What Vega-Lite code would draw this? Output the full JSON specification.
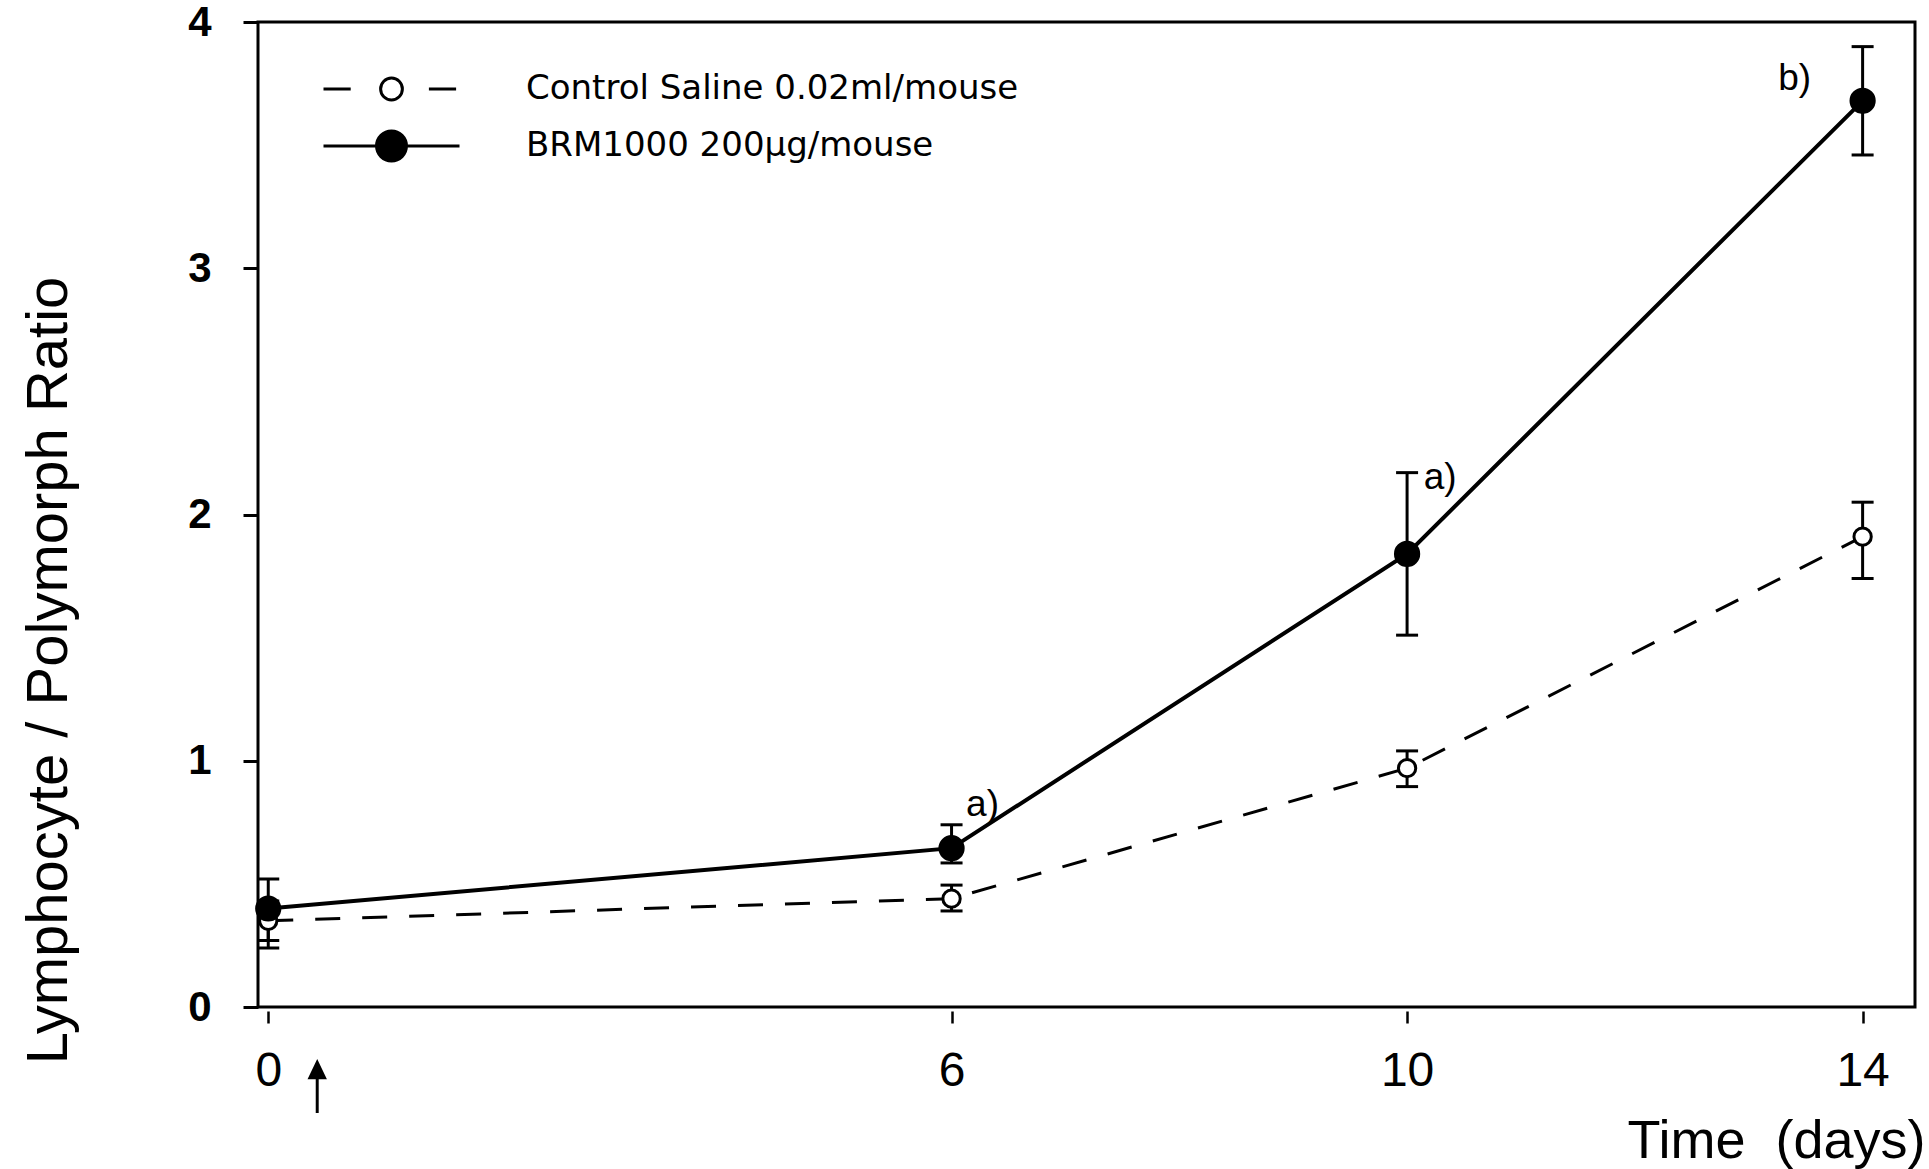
{
  "$schema": "https://vega.github.io/schema/vega-lite/v6.json",
  "width": 1657,
  "height": 985,
  "autosize": {"type": "none"},
  "padding": {"left": 258, "top": 22, "right": 14, "bottom": 162},
  "background": "white",
  "config": {
    "view": {"stroke": "black", "strokeWidth": 3},
    "font": "Liberation Sans"
  },
  "datasets": {
    "series": [
      {"series": "Control Saline 0.02ml/mouse", "day": 0, "ratio": 0.35, "low": 0.27, "high": 0.43, "note": ""},
      {"series": "Control Saline 0.02ml/mouse", "day": 6, "ratio": 0.44, "low": 0.39, "high": 0.495, "note": ""},
      {"series": "Control Saline 0.02ml/mouse", "day": 10, "ratio": 0.97, "low": 0.895, "high": 1.04, "note": ""},
      {"series": "Control Saline 0.02ml/mouse", "day": 14, "ratio": 1.91, "low": 1.74, "high": 2.05, "note": ""},
      {"series": "BRM1000 200μg/mouse", "day": 0, "ratio": 0.40, "low": 0.24, "high": 0.52, "note": ""},
      {"series": "BRM1000 200μg/mouse", "day": 6, "ratio": 0.645, "low": 0.585, "high": 0.74, "note": "a)"},
      {"series": "BRM1000 200μg/mouse", "day": 10, "ratio": 1.84, "low": 1.51, "high": 2.17, "note": "a)"},
      {"series": "BRM1000 200μg/mouse", "day": 14, "ratio": 3.68, "low": 3.46, "high": 3.90, "note": "b)"}
    ],
    "dosing": [{"day": 0.43, "ratio": 0, "event": "dose"}]
  },
  "data": {"name": "series"},
  "encoding": {
    "x": {
      "field": "day", "type": "quantitative",
      "scale": {"domain": [-0.09, 14.46], "nice": false, "zero": false},
      "axis": {
        "values": [0, 6, 10, 14], "domain": false, "grid": false, "offset": 4,
        "tickSize": 12, "tickWidth": 2.5, "tickColor": "black",
        "labelFont": "Liberation Sans", "labelFontSize": 48, "labelColor": "black", "labelPadding": 24,
        "title": "Time\u00a0\u00a0(days)", "titleFont": "Liberation Sans", "titleFontSize": 54, "titleFontWeight": "normal",
        "titleColor": "black", "titleX": 1667, "titleY": 146, "titleAlign": "right", "titleBaseline": "alphabetic", "titleAnchor": "end"
      }
    },
    "y": {
      "field": "ratio", "type": "quantitative",
      "scale": {"domain": [0, 4], "nice": false},
      "axis": {
        "values": [0, 1, 2, 3, 4], "domain": false, "grid": false,
        "tickSize": 15, "tickWidth": 3, "tickColor": "black",
        "labelFont": "Liberation Sans", "labelFontSize": 42, "labelFontWeight": "bold", "labelColor": "black", "labelPadding": 32,
        "title": "Lymphocyte / Polymorph Ratio", "titleFont": "Liberation Sans", "titleFontSize": 58, "titleFontWeight": "normal",
        "titleColor": "black", "titleAngle": -90, "titleX": -209, "titleY": 648, "titleAlign": "center", "titleBaseline": "middle"
      }
    }
  },
  "layer": [
    {
      "transform": [{"filter": {"field": "series", "equal": "Control Saline 0.02ml/mouse"}}],
      "mark": {"type": "line", "color": "black", "strokeWidth": 3, "strokeDash": [25, 22]},
      "encoding": {}
    },
    {
      "transform": [{"filter": {"field": "series", "equal": "BRM1000 200μg/mouse"}}],
      "mark": {"type": "line", "color": "black", "strokeWidth": 4},
      "encoding": {}
    },
    {
      "mark": {"type": "rule", "color": "black", "strokeWidth": 3},
      "encoding": {
        "y": {"field": "low", "type": "quantitative"},
        "y2": {"field": "high"}
      }
    },
    {
      "mark": {"type": "tick", "orient": "horizontal", "size": 22, "thickness": 3, "color": "black", "opacity": 1},
      "encoding": {"y": {"field": "low", "type": "quantitative"}}
    },
    {
      "mark": {"type": "tick", "orient": "horizontal", "size": 22, "thickness": 3, "color": "black", "opacity": 1},
      "encoding": {"y": {"field": "high", "type": "quantitative"}}
    },
    {
      "transform": [{"filter": {"field": "series", "equal": "Control Saline 0.02ml/mouse"}}],
      "mark": {"type": "point", "shape": "circle", "filled": true, "stroke": "black", "strokeWidth": 3, "opacity": 1, "size": 300},
      "encoding": {
        "fill": {
          "field": "series", "type": "nominal",
          "scale": {"domain": ["Control Saline 0.02ml/mouse", "BRM1000 200μg/mouse"], "range": ["white", "black"]},
          "legend": {
            "orient": "none", "legendX": 64, "legendY": 47, "title": null, "padding": 0,
            "symbolSize": 18496, "symbolStrokeWidth": 3, "symbolStrokeColor": "black", "symbolOpacity": 1,
            "clipHeight": 40, "rowPadding": 17, "labelOffset": 65, "labelLimit": 2000,
            "labelFont": "DejaVu Sans", "labelFontSize": 34, "labelColor": "black",
            "encode": {
              "symbols": {
                "update": {
                  "shape": {"signal": "datum.value === 'BRM1000 200μg/mouse' ? 'M-1,0L1,0M-0.22,0A0.22,0.22 0 1,0 0.22,0A0.22,0.22 0 1,0 -0.22,0Z' : 'M-1,0L-0.6,0M0.55,0L0.95,0M-0.16,0A0.16,0.16 0 1,0 0.16,0A0.16,0.16 0 1,0 -0.16,0Z'"}
                }
              }
            }
          }
        }
      }
    },
    {
      "transform": [{"filter": {"field": "series", "equal": "BRM1000 200μg/mouse"}}],
      "mark": {"type": "point", "shape": "circle", "filled": true, "stroke": "black", "strokeWidth": 3, "opacity": 1, "size": 540},
      "encoding": {
        "fill": {"field": "series", "type": "nominal"}
      }
    },
    {
      "transform": [{"filter": "datum.day == 6 && datum.note != ''"}],
      "mark": {"type": "text", "dx": 31, "dy": -43, "fontSize": 37, "font": "Liberation Sans", "color": "black"},
      "encoding": {"text": {"field": "note"}}
    },
    {
      "transform": [{"filter": "datum.day == 10 && datum.note != ''"}],
      "mark": {"type": "text", "dx": 33, "dy": -76, "fontSize": 37, "font": "Liberation Sans", "color": "black"},
      "encoding": {"text": {"field": "note"}}
    },
    {
      "transform": [{"filter": "datum.day == 14 && datum.note != ''"}],
      "mark": {"type": "text", "dx": -68, "dy": -22, "fontSize": 37, "font": "Liberation Sans", "color": "black"},
      "encoding": {"text": {"field": "note"}}
    },
    {
      "data": {"name": "dosing"},
      "mark": {
        "type": "point", "filled": true, "color": "black", "opacity": 1, "size": 2900, "yOffset": 79, "clip": false,
        "shape": "M-0.055,1L0.055,1L0.055,-0.25L0.36,-0.25L0,-1L-0.36,-0.25L-0.055,-0.25Z"
      },
      "encoding": {}
    }
  ]
}
